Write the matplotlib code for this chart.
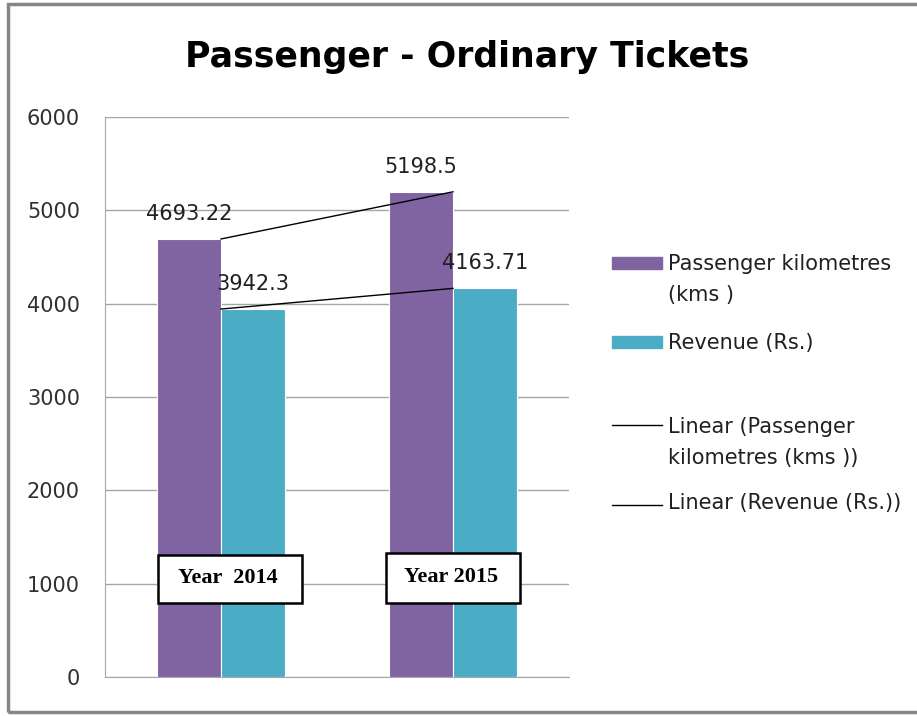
import matplotlib.pyplot as plt
from matplotlib.lines import Line2D
from matplotlib.patches import Rectangle

# ---------------------------------------------------------------------------
# Data
# ---------------------------------------------------------------------------

years = ["Year  2014", "Year 2015"]
passenger_km = [4693.22, 5198.5]
revenue = [3942.3, 4163.71]
series_labels = ["Passenger kilometres\n(kms )", "Revenue (Rs.)"]
trend_labels = ["Linear (Passenger\nkilometres (kms ))", "Linear (Revenue (Rs.))"]
y_ticks = [0, 1000, 2000, 3000, 4000, 5000, 6000]

PURPLE = "#8064a2"
TEAL = "#4bacc6"
FONT = "DejaVu Sans"
W, H = 917, 716


def fx(px):
    return px / W


def fy(py):
    return 1 - py / H


# ---------------------------------------------------------------------------
# Plot
# ---------------------------------------------------------------------------

fig = plt.figure(figsize=(9.17, 7.16), dpi=100)
ax = fig.add_axes([fx(105), fy(677), fx(569) - fx(105), fy(117) - fy(677)])

x = list(range(len(years)))
w = 0.276
xp = [i - w / 2 for i in x]
xr = [i + w / 2 for i in x]

ax.bar(xp, passenger_km, width=w, color=PURPLE, edgecolor="white", linewidth=0.8, zorder=3)
ax.bar(xr, revenue, width=w, color=TEAL, edgecolor="white", linewidth=0.8, zorder=3)

# linear trend lines (2 points -> exact fit through category centres)
ax.plot(x, passenger_km, color="black", lw=1, zorder=4)
ax.plot(x, revenue, color="black", lw=1, zorder=4)

for xs, vals in [(xp, passenger_km), (xr, revenue)]:
    for xi, v in zip(xs, vals):
        ax.annotate(f"{v:g}", (xi, v), xytext=(0, 11), textcoords="offset points",
                    ha="center", va="bottom", fontsize=15, family=FONT,
                    color="#202020", zorder=5)

# year boxes (Excel text boxes sitting over the bars)
box_x = [(-0.272, 0.349), (1 - 0.289, 1 + 0.289)]
box_y = [(793, 1307), (793, 1329)]
for xi, lab, (x0, x1), (y0, y1) in zip(x, years, box_x, box_y):
    ax.add_patch(Rectangle((x0, y0), x1 - x0, y1 - y0, fc="white", ec="black",
                           lw=1.8, zorder=6))
    ax.text((x0 + x1) / 2 - 0.01, (y0 + y1) / 2 + 10, lab, ha="center", va="center",
            fontsize=16, fontweight="bold", family="Liberation Serif", zorder=7)

ax.set_xlim(-0.5, 1.5)
ax.set_ylim(0, 6000)
ax.set_yticks(y_ticks)
ax.set_xticks([])
ax.tick_params(axis="y", length=0, pad=18, labelsize=15, labelcolor="#303030")
for lab in ax.get_yticklabels():
    lab.set_family(FONT)
ax.grid(axis="y", color="#a6a6a6", lw=1, zorder=0)
for s in ["top", "right"]:
    ax.spines[s].set_visible(False)
for s in ["left", "bottom"]:
    ax.spines[s].set_color("#a6a6a6")

fig.text(fx(467), fy(67), "Passenger - Ordinary Tickets", ha="center", va="baseline",
         fontsize=25, fontweight="bold", family=FONT)

# legend drawn by hand to keep Excel's uneven spacing
fig.patches.append(Rectangle((fx(612), fy(269)), 50 / W, 12 / H, transform=fig.transFigure,
                             color=PURPLE))
fig.patches.append(Rectangle((fx(612), fy(348)), 50 / W, 12 / H, transform=fig.transFigure,
                             color=TEAL))
for py in [425, 505]:
    fig.lines.append(Line2D([fx(612), fx(662)], [fy(py), fy(py)],
                            transform=fig.transFigure, color="black", lw=1))

legend_text = series_labels + trend_labels
legend_base = [270, 349, 433, 509]
for lab, py in zip(legend_text, legend_base):
    for k, line in enumerate(lab.split("\n")):
        fig.text(fx(668), fy(py + 31 * k), line, ha="left", va="baseline",
                 fontsize=15, family=FONT, color="#202020")

# outer chart border
fig.patches.append(Rectangle((fx(8), fy(712)), 1.0, (712 - 4) / H, transform=fig.transFigure,
                             fill=False, ec="#868686", lw=2.5))

fig.savefig("out.png", dpi=100)
